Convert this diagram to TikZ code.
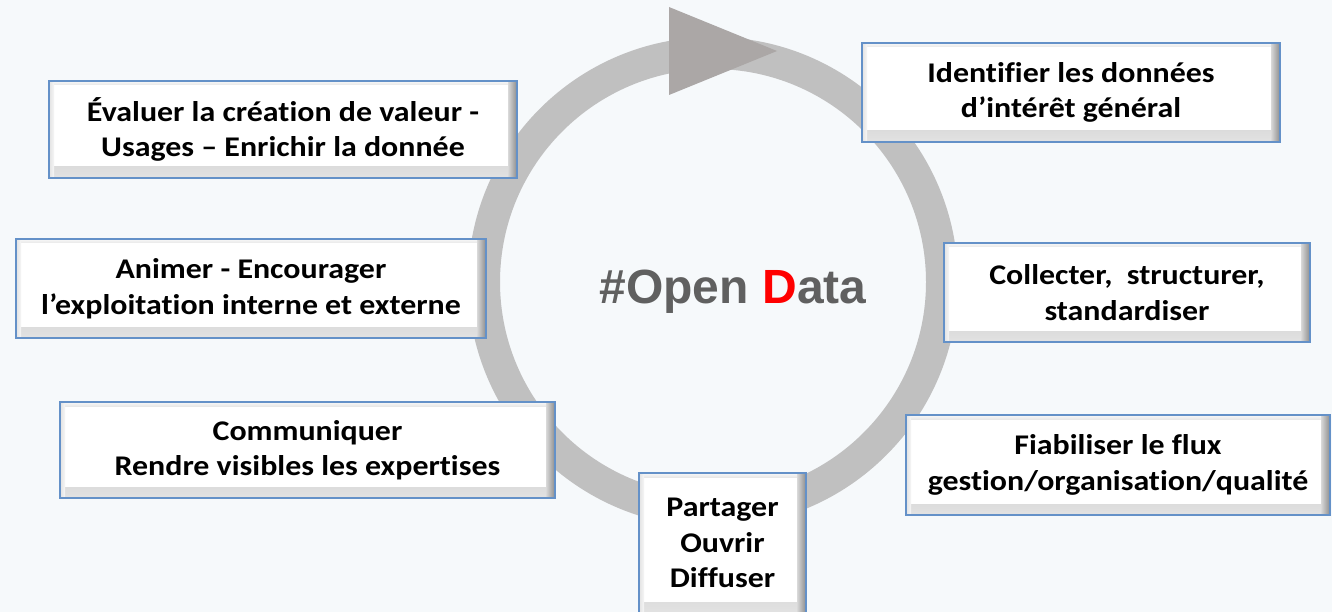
\documentclass[tikz,border=0pt]{standalone}
\usepackage{fontspec}
\setmainfont{Carlito}[FakeStretch=1.12, Ligatures={NoCommon}]
\newfontfamily\arialfont{Liberation Sans}
\definecolor{bgcol}{RGB}{246,249,251}
\definecolor{ringcol}{RGB}{192,192,192}
\definecolor{arrowcol}{RGB}{171,167,166}
\definecolor{bordercol}{RGB}{100,145,200}
\definecolor{titlegray}{RGB}{96,96,96}
\definecolor{dred}{RGB}{255,0,0}
% y axis is flipped in the picture, so vertical shadings are given upside down
\pgfdeclareverticalshading{bevelbottom}{100bp}{color(0bp)=(white); color(100bp)=(black!45)}
\pgfdeclareverticalshading{beveltop}{100bp}{color(0bp)=(black!12); color(100bp)=(white)}
\pgfdeclarehorizontalshading{bevelright}{100bp}{color(0bp)=(white); color(100bp)=(black!60)}
\pgfdeclarehorizontalshading{bevelleft}{100bp}{color(0bp)=(black!15); color(100bp)=(white)}
\tikzset{
  stepbox/.style={draw=bordercol, line width=1.8pt, fill=white, align=center,
    inner sep=4pt,
    font=\fontsize{28.5}{35.5}\selectfont\bfseries,
    path picture={
      \shade[shading=bevelbottom]
        ([yshift=11pt]path picture bounding box.south west) rectangle (path picture bounding box.south east);
      \shade[shading=beveltop]
        (path picture bounding box.north west) rectangle ([yshift=-4pt]path picture bounding box.north east);
      \shade[shading=bevelleft]
        (path picture bounding box.north west) rectangle ([xshift=5pt]path picture bounding box.south west);
      \shade[shading=bevelright]
        ([xshift=-9pt]path picture bounding box.north east) rectangle (path picture bounding box.south east);
    }},
  ring/.style={draw=ringcol, line width=32pt},
  arrowhd/.style={fill=arrowcol, draw=none}
}
\begin{document}
\begin{tikzpicture}[x=1pt, y=-1pt]
\fill[bgcol] (0,0) rectangle (1332,612);
\useasboundingbox (0,0) rectangle (1332,612);
\coordinate (c) at (713,282);
\draw[ring] (c) circle (229pt);
\fill[arrowhd] (669,7) -- (669,95) -- (777,51) -- cycle;
\node[stepbox, minimum width=468pt, minimum height=97pt] (b1) at (283,129.5)
  {Évaluer la création de valeur -\\Usages – Enrichir la donnée};
\node[stepbox, minimum width=418pt, minimum height=99pt] (b2) at (1071,92.5)
  {Identifier les données\\d’intérêt général};
\node[stepbox, minimum width=366pt, minimum height=99pt] (b3) at (1127,292.5)
  {Collecter,\ \ structurer,\\standardiser};
\node[stepbox, minimum width=424pt, minimum height=100pt] (b4) at (1118,465)
  {Fiabiliser le flux\\gestion/organisation/qualité};
\node[stepbox, minimum width=167pt, minimum height=140pt] (b5) at (722.5,543)
  {Partager\\Ouvrir\\Diffuser};
\node[stepbox, minimum width=495pt, minimum height=96pt] (b6) at (307.5,450)
  {Communiquer\\Rendre visibles les expertises};
\node[stepbox, minimum width=470pt, minimum height=99pt] (b7) at (251,288.5)
  {Animer - Encourager\\l’exploitation interne et externe};
\node[anchor=base, inner sep=0pt, font=\arialfont\bfseries\fontsize{48}{58}\selectfont] (title) at (733,303)
  {\textcolor{titlegray}{\#Open }\textcolor{dred}{D}\textcolor{titlegray}{ata}};
\end{tikzpicture}
\end{document}
